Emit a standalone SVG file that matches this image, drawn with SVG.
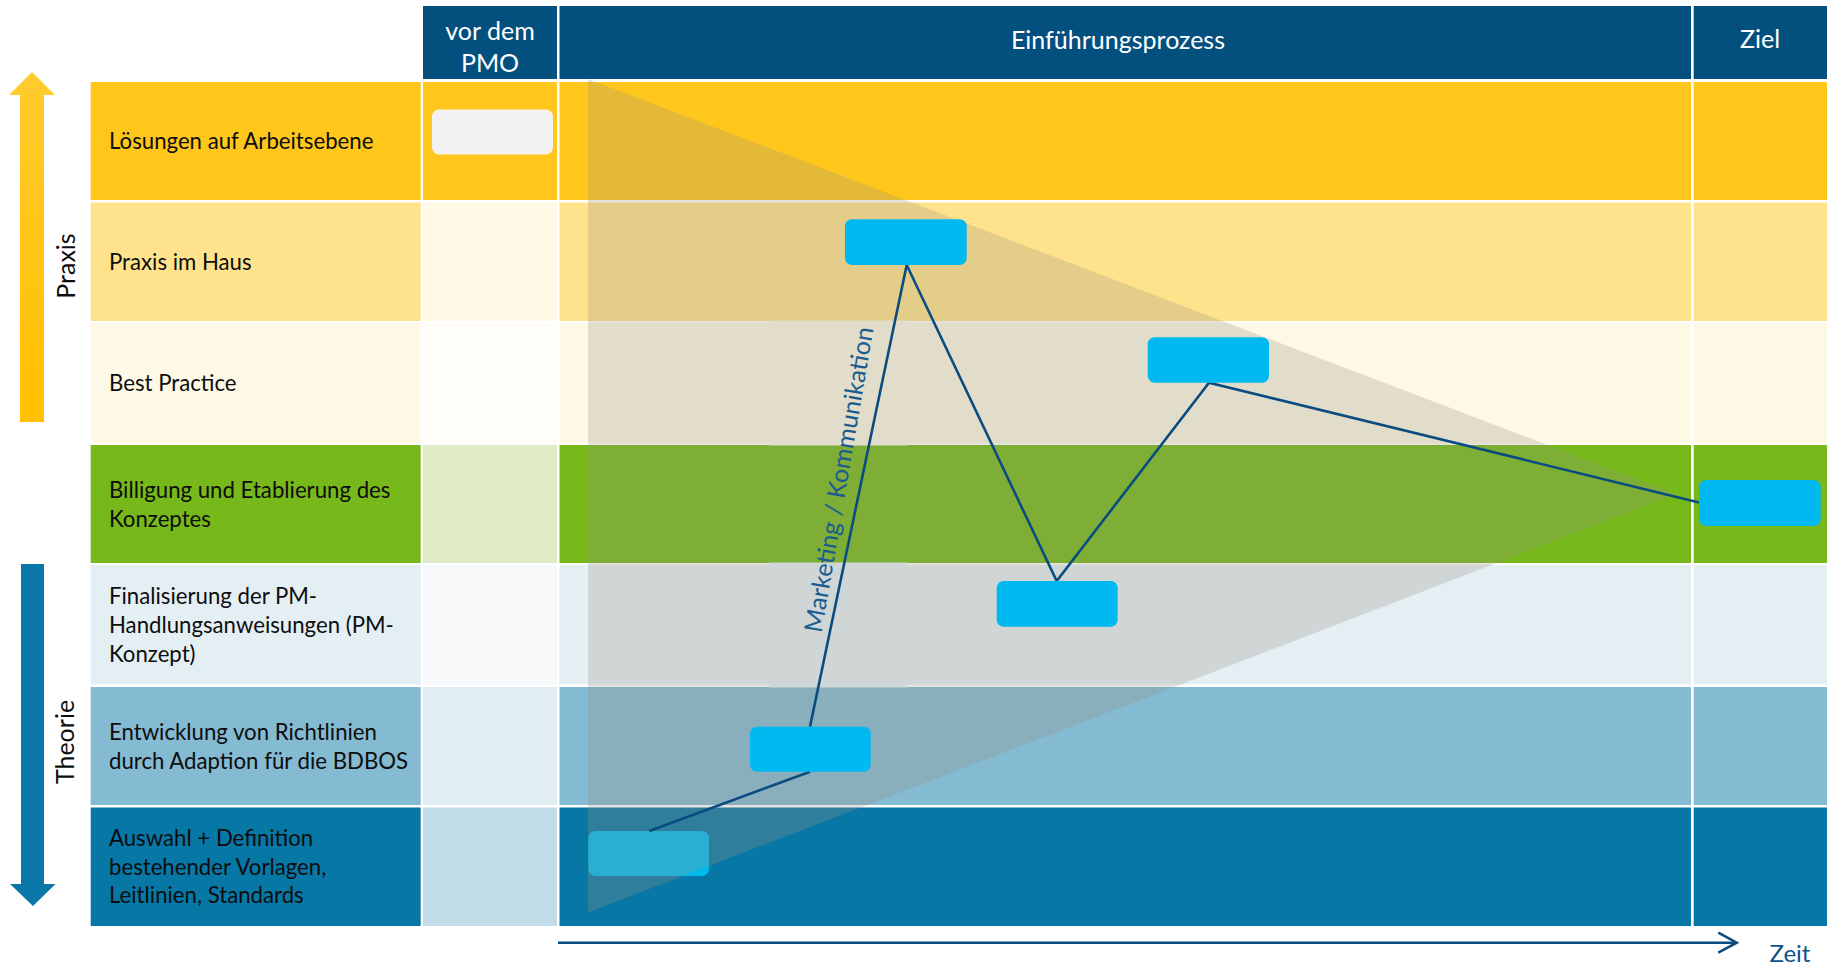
<svg xmlns="http://www.w3.org/2000/svg" width="1827" height="966" viewBox="0 0 1827 966">
  <defs>
    <linearGradient id="gPraxis" x1="0" y1="0" x2="0" y2="1">
      <stop offset="0" stop-color="#FFCB2E"/>
      <stop offset="1" stop-color="#FFC000"/>
    </linearGradient>
    <style>
      text { font-family: Lato, "Open Sans", "Liberation Sans", sans-serif; }
      .lbl { font-size: 22.2px; fill: #0D0D0D; }
      .hdr { font-size: 25px; fill: #FFFFFF; }
      .axis { font-size: 25px; fill: #0D0D0D; }
      .hbg { fill: #03507F; }
      .box { fill: #00B9F0; }
      .conn { fill: none; stroke: #0A4C80; stroke-width: 2.6; stroke-linejoin: miter; }
      .r1 { fill: #FFC71C; } .r2 { fill: #FFE38C; } .r3 { fill: #FEF8E6; }
      .r4 { fill: #77B81B; } .r5 { fill: #E4EFF4; } .r6 { fill: #84BAD2; } .r7 { fill: #0777A6; }
      .p1 { fill: #FFC71C; } .p2 { fill: #FFF8E5; } .p3 { fill: #FFFDF8; }
      .p4 { fill: #DEEBC4; } .p5 { fill: #F7F9FB; } .p6 { fill: #E0EDF3; } .p7 { fill: #C2DDE9; }
    </style>
  </defs>
  <rect width="1827" height="966" fill="#FFFFFF"/>

  <!-- header -->
  <g id="header">
    <g id="h-pmo">
      <rect class="hbg" x="423" y="6" width="134" height="73"/>
      <text class="hdr" x="490" y="40" text-anchor="middle">vor dem</text>
      <text class="hdr" x="490" y="71.5" text-anchor="middle">PMO</text>
    </g>
    <g id="h-einf">
      <rect class="hbg" x="559.5" y="6" width="1131.5" height="73"/>
      <text class="hdr" x="1118" y="49" text-anchor="middle">Einführungsprozess</text>
    </g>
    <g id="h-ziel">
      <rect class="hbg" x="1693.7" y="6" width="133.3" height="73"/>
      <text class="hdr" x="1760" y="48" text-anchor="middle">Ziel</text>
    </g>
  </g>

  <!-- rows -->
  <g id="row1">
    <rect class="r1" x="90.7" y="82" width="330" height="118"/>
    <rect class="p1" x="423" y="82" width="134" height="118"/>
    <rect class="r1" x="559.5" y="82" width="1131.5" height="118"/>
    <rect class="r1" x="1693.7" y="82" width="133.3" height="118"/>
    <text class="lbl" x="109" y="149.3">Lösungen auf Arbeitsebene</text>
  </g>
  <g id="row2">
    <rect class="r2" x="90.7" y="202.5" width="330" height="118.5"/>
    <rect class="p2" x="423" y="202.5" width="134" height="118.5"/>
    <rect class="r2" x="559.5" y="202.5" width="1131.5" height="118.5"/>
    <rect class="r2" x="1693.7" y="202.5" width="133.3" height="118.5"/>
    <text class="lbl" x="109" y="270">Praxis im Haus</text>
  </g>
  <g id="row3">
    <rect class="r3" x="90.7" y="323" width="330" height="120"/>
    <rect class="p3" x="423" y="323" width="134" height="120"/>
    <rect class="r3" x="559.5" y="323" width="1131.5" height="120"/>
    <rect class="r3" x="1693.7" y="323" width="133.3" height="120"/>
    <text class="lbl" x="109" y="391">Best Practice</text>
  </g>
  <g id="row4">
    <rect class="r4" x="90.7" y="445" width="330" height="118"/>
    <rect class="p4" x="423" y="445" width="134" height="118"/>
    <rect class="r4" x="559.5" y="445" width="1131.5" height="118"/>
    <rect class="r4" x="1693.7" y="445" width="133.3" height="118"/>
    <text class="lbl" x="109" y="498">Billigung und Etablierung des</text>
    <text class="lbl" x="109" y="527">Konzeptes</text>
  </g>
  <g id="row5">
    <rect class="r5" x="90.7" y="565" width="330" height="119.5"/>
    <rect class="p5" x="423" y="565" width="134" height="119.5"/>
    <rect class="r5" x="559.5" y="565" width="1131.5" height="119.5"/>
    <rect class="r5" x="1693.7" y="565" width="133.3" height="119.5"/>
    <text class="lbl" x="109" y="604">Finalisierung der PM-</text>
    <text class="lbl" x="109" y="633">Handlungsanweisungen (PM-</text>
    <text class="lbl" x="109" y="662">Konzept)</text>
  </g>
  <g id="row6">
    <rect class="r6" x="90.7" y="687" width="330" height="118"/>
    <rect class="p6" x="423" y="687" width="134" height="118"/>
    <rect class="r6" x="559.5" y="687" width="1131.5" height="118"/>
    <rect class="r6" x="1693.7" y="687" width="133.3" height="118"/>
    <text class="lbl" x="109" y="740">Entwicklung von Richtlinien</text>
    <text class="lbl" x="109" y="769.3">durch Adaption für die BDBOS</text>
  </g>
  <g id="row7">
    <rect class="r7" x="90.7" y="807.5" width="330" height="118.5"/>
    <rect class="p7" x="423" y="807.5" width="134" height="118.5"/>
    <rect class="r7" x="559.5" y="807.5" width="1131.5" height="118.5"/>
    <rect class="r7" x="1693.7" y="807.5" width="133.3" height="118.5"/>
    <text class="lbl" x="109" y="846">Auswahl + Definition</text>
    <text class="lbl" x="109" y="874.5">bestehender Vorlagen,</text>
    <text class="lbl" x="109" y="903.3">Leitlinien, Standards</text>
  </g>

  <!-- band behind Marketing label (fills row gaps) -->
  <g id="band">
    <rect x="769.3" y="320.5" width="137.4" height="3" fill="#FEF8E6"/>
    <rect x="769.3" y="442.5" width="137.4" height="3" fill="#FEF8E6"/>
    <rect x="769.3" y="562.5" width="137.4" height="3" fill="#E4EFF4"/>
    <rect x="769.3" y="684" width="137.4" height="3.5" fill="#E4EFF4"/>
  </g>

  <!-- box under triangle -->
  <g id="box-auswahl"><rect class="box" x="588.3" y="831" width="120.7" height="45" rx="7"/></g>

  <!-- wedge -->
  <g id="wedge">
    <polygon points="588,79 1676,494 588,912.5" fill="#969280" fill-opacity="0.27"/>
  </g>

  <!-- axis arrows -->
  <g id="praxis-axis">
    <polygon points="32,72 55,95 44,95 44,422 20,422 20,95 9,95" fill="url(#gPraxis)"/>
    <text class="axis" transform="translate(75,266) rotate(-90)" text-anchor="middle">Praxis</text>
  </g>
  <g id="theorie-axis">
    <polygon points="21,564 44,564 44,884 55.5,884 33,906 10,884 21,884" fill="#0A77A8"/>
    <text class="axis" transform="translate(73.5,742) rotate(-90)" text-anchor="middle">Theorie</text>
  </g>

  <!-- connectors -->
  <g id="connectors">
    <polyline class="conn" points="649.3,831 810,771.7"/>
    <polyline class="conn" points="810,726.7 906.7,265 1056.7,581 1209,382.7 1699,502.5"/>
    <g id="zeit-axis">
      <line x1="558" y1="942.7" x2="1736" y2="942.7" stroke="#0A4C80" stroke-width="2.6"/>
      <polyline points="1718.3,932.7 1736.7,942.7 1718.3,952.7" fill="none" stroke="#0A4C80" stroke-width="2.6"/>
    </g>
  </g>

  <!-- boxes -->
  <g id="box-pmo"><rect x="432" y="109.5" width="121" height="45" rx="7" fill="#F2F2F2"/></g>
  <g id="box-praxis"><rect class="box" x="845" y="219.3" width="121.7" height="45.7" rx="7"/></g>
  <g id="box-best"><rect class="box" x="1147.7" y="337.3" width="121.3" height="45.4" rx="7"/></g>
  <g id="box-final"><rect class="box" x="996.7" y="581" width="121" height="45.7" rx="7"/></g>
  <g id="box-entw"><rect class="box" x="750" y="726.7" width="120.7" height="45" rx="7"/></g>
  <g id="box-ziel"><rect class="box" x="1699" y="480" width="121.7" height="46" rx="7"/></g>

  <g id="marketing-label">
    <text transform="translate(847.5,481) rotate(-80.3)" text-anchor="middle" font-size="25" fill="#1A5C90">Marketing / Kommunikation</text>
  </g>
  <g id="zeit-label">
    <text x="1790" y="961.5" text-anchor="middle" font-size="24" fill="#0B5388">Zeit</text>
  </g>
</svg>
